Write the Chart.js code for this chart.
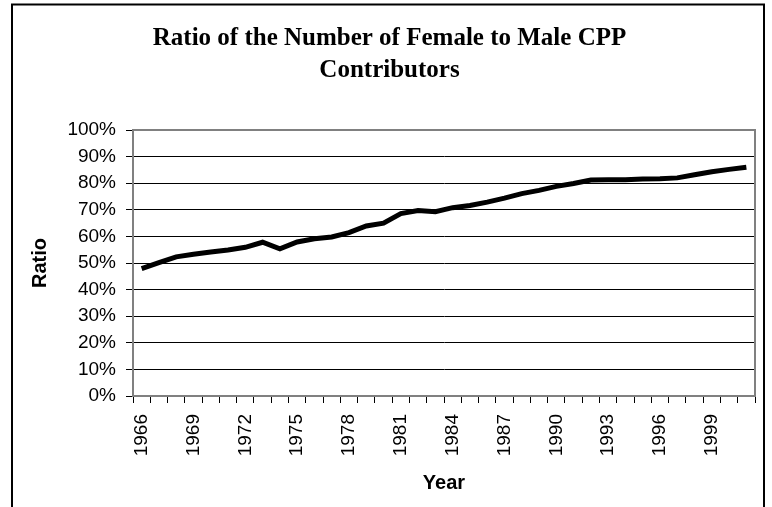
<!DOCTYPE html>
<html>
<head>
<meta charset="utf-8">
<script src="https://cdn.jsdelivr.net/npm/chart.js@4/dist/chart.umd.min.js"></script>
<style>
  body { margin: 0; background: #fff; }
  #wrap { width: 772px; height: 507px; }
</style>
</head>
<body>
<div id="wrap"><canvas id="ratioChart" width="772" height="507"></canvas></div>
<script>
// years 1966 - 2001
var years = [1966, 1967, 1968, 1969, 1970, 1971, 1972, 1973, 1974, 1975, 1976, 1977,
  1978, 1979, 1980, 1981, 1982, 1983, 1984, 1985, 1986, 1987, 1988, 1989,
  1990, 1991, 1992, 1993, 1994, 1995, 1996, 1997, 1998, 1999, 2000, 2001];

// female / male contributors, in percent
var ratio = [47.9, 50.1, 52.3, 53.3, 54.1, 54.9, 55.9, 57.8, 55.3, 57.9, 59.1, 59.8,
  61.4, 63.9, 65.0, 68.6, 69.7, 69.3, 70.8, 71.6, 72.9, 74.4, 76.1, 77.3,
  78.8, 79.9, 81.2, 81.3, 81.3, 81.6, 81.7, 82.0, 83.2, 84.3, 85.2, 86.0];

var yTicks = [0, 10, 20, 30, 40, 50, 60, 70, 80, 90, 100];

var sans = "'Liberation Sans', Arial, sans-serif";

// white page + black frame round the chart, gray plot border
var framePlugin = {
  id: 'frame',
  beforeDraw: function(chart) {
    var c = chart.ctx;
    c.save();
    c.fillStyle = '#fff';
    c.fillRect(0, 0, chart.width, chart.height);
    c.strokeStyle = '#000';
    c.lineWidth = 2;
    c.strokeRect(12, 4.5, 752, 520);
    c.restore();
  },
  afterDraw: function(chart) {
    var a = chart.chartArea;
    var c = chart.ctx;
    c.save();
    c.strokeStyle = '#808080';
    c.lineWidth = 2;
    c.beginPath();
    c.moveTo(a.left, a.top);
    c.lineTo(a.right, a.top);
    c.lineTo(a.right, a.bottom);
    c.stroke();
    c.restore();
  }
};

var ctx = document.getElementById('ratioChart').getContext('2d');

var myChart = new Chart(ctx, {
  type: 'line',
  data: {
    labels: years.map(String),
    datasets: [{
      data: ratio,
      borderColor: '#000',
      borderWidth: 5,
      pointRadius: 0,
      tension: 0,
      fill: false
    }]
  },
  options: {
    responsive: false,
    animation: false,
    devicePixelRatio: 1,
    layout: { padding: { left: 24, right: 17, top: 0, bottom: 8 } },
    plugins: {
      legend: { display: false },
      tooltip: { enabled: false },
      title: {
        display: true,
        text: ['Ratio of the Number of Female to Male CPP', 'Contributors'],
        color: '#000',
        font: { family: "'Liberation Serif', 'Times New Roman', serif", size: 25, weight: 'bold', lineHeight: 1.28 },
        padding: { top: 23, bottom: 43 }
      }
    },
    scales: {
      x: {
        offset: true,
        grid: { offset: true, drawOnChartArea: false, drawTicks: true, tickLength: 7, tickColor: '#000' },
        border: { color: '#808080', width: 2 },
        ticks: {
          autoSkip: false,
          minRotation: 90,
          maxRotation: 90,
          padding: 11,
          color: '#000',
          font: { family: sans, size: 19 },
          callback: function(val, i) {
            return (i % 3 === 0) ? this.getLabelForValue(val) : '';
          }
        },
        title: {
          display: true,
          text: 'Year',
          color: '#000',
          font: { family: sans, size: 20, weight: 'bold' },
          padding: { top: 4, bottom: 4 }
        },
        afterFit: function(scale) {
          scale.height = 103;
          scale.paddingLeft = 0;
          scale.paddingRight = 0;
        }
      },
      y: {
        min: 0,
        max: 100,
        afterBuildTicks: function(scale) {
          scale.ticks = yTicks.map(function(v) { return { value: v }; });
        },
        grid: { color: '#000', lineWidth: 1, drawTicks: true, tickLength: 7, tickColor: '#000' },
        border: { color: '#808080', width: 2 },
        ticks: {
          padding: 10,
          color: '#000',
          font: { family: sans, size: 19 },
          callback: function(v) { return v + '%'; }
        },
        title: {
          display: true,
          text: 'Ratio',
          color: '#000',
          font: { family: sans, size: 20, weight: 'bold' },
          padding: { top: 4, bottom: 4 }
        },
        afterFit: function(scale) {
          scale.width = 109;
          scale.paddingTop = 0;
          scale.paddingBottom = 0;
        }
      }
    }
  },
  plugins: [framePlugin]
});
</script>
</body>
</html>
